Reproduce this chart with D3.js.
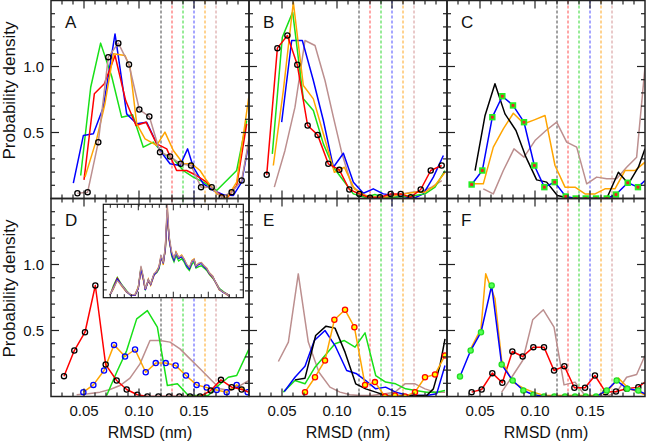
<!DOCTYPE html>
<html><head><meta charset="utf-8">
<script src="https://cdn.jsdelivr.net/npm/d3@7"></script>
<style>body{margin:0;background:#fff;}svg{display:block;}text{font-family:"Liberation Sans",Arial,Helvetica,sans-serif;fill:#111;}</style>
</head><body><svg id="c" width="646" height="442"></svg>
<script>
// ---------- data ----------
const xTickValues = [0.05, 0.10, 0.15];
const xTickLabels = ["0.05", "0.10", "0.15"];
const yTickValues = [0.5, 1.0];
const yTickLabels = ["0.5", "1.0"];
const refLines = [0.12, 0.13, 0.14, 0.15, 0.16, 0.17];
const panelLetters = ["A","B","C","D","E","F"];

const A_green = [[0.047,0.174],[0.0561,0.843],[0.0651,1.177],[0.0752,0.924],[0.0842,0.616],[0.0942,0.634],[0.1039,0.389],[0.113,0.427],[0.1221,0.338],[0.1312,0.300],[0.1403,0.212],[0.1494,0.162],[0.1585,0.124],[0.1706,0.061],[0.1888,0.212],[0.1979,0.591]];
const A_blue = [[0.0403,0.116],[0.0494,0.477],[0.0585,0.490],[0.0676,0.692],[0.0782,1.247],[0.0888,0.641],[0.0979,0.566],[0.107,0.578],[0.1191,0.364],[0.1282,0.263],[0.1373,0.250],[0.1442,0.376],[0.1494,0.237],[0.1585,0.111],[0.1676,0.061],[0.1767,0.028],[0.1858,0.023],[0.1933,0.124],[0.1994,0.402]];
const A_red = [[0.05,0.141],[0.0594,0.793],[0.0685,0.869],[0.0782,1.083],[0.0879,0.742],[0.0973,0.553],[0.1064,0.578],[0.1161,0.414],[0.1252,0.376],[0.1342,0.212],[0.1433,0.212],[0.1524,0.174],[0.1615,0.124],[0.1706,0.048],[0.1797,0.0],[0.1888,0.098],[0.1979,0.566]];
const A_orange = [[0.0509,0.162],[0.0615,0.45],[0.0691,0.72],[0.0767,1.096],[0.0873,1.083],[0.0918,0.995],[0.0979,0.566],[0.1055,0.452],[0.1161,0.402],[0.1236,0.503],[0.1312,0.364],[0.1403,0.263],[0.1479,0.263],[0.1555,0.212],[0.1615,0.136],[0.1706,0.035],[0.1797,0.003],[0.1888,0.124],[0.2,0.78]];
const A_brown = [[0.044,0.040],[0.0533,0.048],[0.063,0.427],[0.0721,1.071],[0.0812,1.177],[0.0909,1.015],[0.1003,0.674],[0.1094,0.621],[0.1191,0.351],[0.1282,0.318],[0.1379,0.263],[0.1473,0.250],[0.1564,0.086],[0.1661,0.086],[0.1752,0.010],[0.1842,0.048],[0.1933,0.136],[0.2,0.45]];

const B_red = [[0.0361,0.179],[0.0458,1.139],[0.0549,1.235],[0.0639,1.013],[0.0733,0.553],[0.0824,0.482],[0.0921,0.263],[0.1021,0.217],[0.1112,0.068],[0.1203,0.035],[0.13,0.005],[0.1391,0.010],[0.1488,0.035],[0.1579,0.035],[0.167,0.010],[0.1761,0.068],[0.1852,0.212],[0.1952,0.250]];
const B_green = [[0.0412,0.338],[0.0503,1.222],[0.0597,1.412],[0.0694,0.755],[0.0785,0.667],[0.0876,0.414],[0.0967,0.237],[0.1058,0.136],[0.1149,0.035],[0.1255,0.010],[0.1345,0.030],[0.1436,0.005],[0.1527,0.010],[0.1618,0.015],[0.1709,0.023],[0.18,0.035],[0.1891,0.086],[0.1982,0.212]];
const B_orange = [[0.0421,0.250],[0.0512,0.818],[0.0603,1.487],[0.0694,0.856],[0.0785,0.755],[0.0876,0.490],[0.0976,0.199],[0.1067,0.237],[0.1158,0.073],[0.1255,0.023],[0.1345,0.010],[0.1436,0.010],[0.1527,0.023],[0.1618,0.035],[0.1709,0.048],[0.18,0.048],[0.1891,0.098],[0.1982,0.199]];
const B_blue = [[0.0497,0.578],[0.0588,1.197],[0.0685,1.197],[0.0785,0.894],[0.0876,0.591],[0.0967,0.237],[0.1058,0.343],[0.1149,0.124],[0.124,0.040],[0.133,0.073],[0.1421,0.035],[0.1512,0.023],[0.1603,0.015],[0.1694,0.0],[0.1785,0.035],[0.1876,0.162],[0.1967,0.326]];
const B_brown = [[0.043,0.086],[0.0527,0.364],[0.0618,0.692],[0.0709,1.197],[0.08,1.159],[0.0891,0.894],[0.0967,0.616],[0.1042,0.351],[0.1133,0.098],[0.1224,0.035],[0.1315,0.010],[0.1406,0.015],[0.1497,0.023],[0.1588,0.035],[0.1679,0.048],[0.177,0.055],[0.1861,0.086],[0.1952,0.136]];

const C_black = [[0.0455,0.212],[0.0546,0.629],[0.0636,0.869],[0.0727,0.641],[0.0827,0.515],[0.0918,0.313],[0.1015,0.141],[0.1106,0.124],[0.1203,0.023],[0.1294,0.005],[0.1379,0.0],[0.147,0.0],[0.1561,0.0],[0.1652,0.0],[0.1758,0.199],[0.1849,0.111],[0.194,0.237],[0.2,0.376]];
const C_blue = [[0.0424,0.106],[0.0521,0.212],[0.0612,0.616],[0.0703,0.775],[0.08,0.705],[0.09,0.578],[0.0994,0.250],[0.1085,0.086],[0.1179,0.124],[0.1279,0.015],[0.137,0.0],[0.1461,0.0],[0.1555,0.0],[0.1652,0.0],[0.1736,0.030],[0.1843,0.119],[0.1936,0.086],[0.2,0.136]];
const C_orange = [[0.0439,0.111],[0.053,0.111],[0.0621,0.389],[0.0712,0.528],[0.0803,0.646],[0.09,0.566],[0.0994,0.596],[0.1091,0.629],[0.1182,0.250],[0.1273,0.086],[0.1364,0.086],[0.1455,0.035],[0.1546,0.035],[0.1636,0.073],[0.1727,0.073],[0.1818,0.212],[0.1909,0.212],[0.2,0.275]];
const C_brown = [[0.053,0.073],[0.0621,0.035],[0.0712,0.212],[0.0809,0.376],[0.09,0.313],[0.1,0.439],[0.11,0.515],[0.1197,0.578],[0.1288,0.427],[0.1379,0.389],[0.147,0.111],[0.1561,0.162],[0.1652,0.149],[0.1742,0.149],[0.1833,0.237],[0.1924,0.313],[0.2,0.995]];

const D_red = [[0.0318,0.154],[0.0412,0.348],[0.0509,0.487],[0.0603,0.841],[0.0697,0.242],[0.0797,0.121],[0.0888,0.053],[0.0985,0.013],[0.1076,0.0],[0.1176,0.0],[0.1273,0.0],[0.1367,0.0],[0.1464,0.0],[0.1555,0.0],[0.1652,0.045],[0.1745,0.126],[0.1842,0.071],[0.1933,0.053],[0.2,0.033]];
const D_orange = [[0.0494,0.033],[0.0585,0.088],[0.0682,0.197],[0.0773,0.391],[0.0873,0.303],[0.0964,0.356],[0.1061,0.184],[0.1152,0.253],[0.1243,0.253],[0.1333,0.235],[0.1427,0.159],[0.1524,0.088],[0.1615,0.068],[0.1706,0.050],[0.1797,0.033],[0.1888,0.088],[0.1988,0.033]];
const D_green = [[0.0706,0.008],[0.0797,0.184],[0.0888,0.348],[0.0979,0.588],[0.1076,0.651],[0.1167,0.525],[0.1258,0.083],[0.1349,0.096],[0.1449,0.008],[0.154,0.008],[0.163,0.008],[0.1721,0.083],[0.1812,0.146],[0.1888,0.159],[0.2,0.361]];
const D_brown = [[0.0433,0.013],[0.0539,0.020],[0.0645,0.033],[0.0736,0.053],[0.0827,0.083],[0.0918,0.139],[0.1009,0.247],[0.11,0.424],[0.1191,0.424],[0.1282,0.412],[0.1373,0.361],[0.1464,0.285],[0.1555,0.210],[0.1645,0.134],[0.1736,0.058],[0.1827,0.045],[0.1918,0.083],[0.2,0.121]];

const E_black = [[0.0618,0.126],[0.0709,0.139],[0.0806,0.462],[0.09,0.533],[0.0982,0.518],[0.1073,0.336],[0.117,0.096],[0.1261,0.058],[0.1352,0.033],[0.1442,0.008],[0.1533,0.008],[0.1624,0.008],[0.1715,0.008],[0.1815,0.008],[0.1876,0.058],[0.1936,0.235],[0.1982,0.437]];
const E_blue = [[0.0521,0.038],[0.0618,0.146],[0.0709,0.230],[0.0794,0.424],[0.0891,0.500],[0.0982,0.386],[0.1088,0.197],[0.1179,0.172],[0.1261,0.121],[0.1352,0.058],[0.1442,0.071],[0.1533,0.033],[0.1624,0.013],[0.1715,0.008],[0.1815,0.008],[0.1906,0.020],[0.1982,0.235]];
const E_green = [[0.0512,0.033],[0.0618,0.121],[0.0709,0.096],[0.08,0.222],[0.0891,0.311],[0.0982,0.399],[0.1067,0.424],[0.1164,0.374],[0.1255,0.482],[0.1352,0.159],[0.1442,0.109],[0.1533,0.096],[0.1624,0.058],[0.1715,0.045],[0.1815,0.033],[0.1906,0.033],[0.1982,0.045]];
const E_orange = [[0.0709,0.033],[0.08,0.146],[0.0891,0.273],[0.0976,0.581],[0.1073,0.657],[0.1158,0.525],[0.1255,0.088],[0.1345,0.109],[0.1436,0.0],[0.1527,0.008],[0.1618,0.0],[0.1709,0.033],[0.18,0.146],[0.1891,0.167],[0.1982,0.311]];
const E_brown = [[0.0467,0.265],[0.0558,0.412],[0.0648,0.929],[0.0739,0.412],[0.0836,0.184],[0.0936,0.071],[0.1027,0.033],[0.1118,0.013],[0.1209,0.008],[0.1315,0.008],[0.1436,0.020],[0.1527,0.033],[0.1618,0.096],[0.1709,0.096],[0.18,0.058],[0.1891,0.033],[0.1982,0.033]];

const F_blue = [[0.0318,0.152],[0.0415,0.348],[0.0509,0.487],[0.0606,0.841],[0.0697,0.242],[0.0797,0.121],[0.0894,0.045],[0.0985,0.013],[0.1082,0.0],[0.1176,0.0],[0.1273,0.0],[0.1364,0.0],[0.1461,0.0],[0.1555,0.0],[0.1652,0.045],[0.1742,0.121],[0.1839,0.058],[0.1939,0.045],[0.2,0.020]];
const F_orange = [[0.0415,0.361],[0.0509,0.513],[0.0552,0.929],[0.0636,0.740],[0.0697,0.273],[0.0797,0.109],[0.0894,0.063],[0.0985,0.033],[0.1082,0.008],[0.1176,0.008],[0.1273,0.008],[0.1364,0.008],[0.1461,0.008],[0.1555,0.008],[0.1652,0.033],[0.1758,0.139],[0.1849,0.063],[0.1939,0.033],[0.2,0.013]];
const F_red = [[0.0424,0.033],[0.0515,0.053],[0.0612,0.177],[0.0703,0.104],[0.0794,0.341],[0.0888,0.303],[0.0985,0.374],[0.1082,0.374],[0.1173,0.197],[0.1267,0.230],[0.1358,0.066],[0.1455,0.066],[0.1545,0.159],[0.1642,0.033],[0.1736,0.038],[0.1833,0.058],[0.1939,0.071],[0.2,0.109]];
const F_brown = [[0.0697,0.033],[0.0788,0.146],[0.0888,0.273],[0.0979,0.581],[0.1076,0.657],[0.1173,0.525],[0.1264,0.088],[0.1364,0.109],[0.1461,0.0],[0.1555,0.008],[0.1652,0.0],[0.1742,0.033],[0.1833,0.146],[0.1924,0.167],[0.2,0.311]];

// inset (panel D)
const insetX = [0.96,1.43,2.0,2.62,3.33,3.91,4.53,5.0,5.38,5.71,6.0,6.43,6.77,7.24,7.63,7.96,8.24,8.57,8.86,9.14,9.39,9.77,10.1,10.39,10.77,11.2,11.53,11.91,12.29,12.67,12.96,13.24,13.63,14.0,14.39,14.77,15.14,15.63,16.1,16.57,17.14,17.63,18.0];
const insetGreen = [0.3,1.5,2.6,1.7,0.9,0.3,0.3,1.3,3.9,2.6,1.1,2.1,1.8,3.0,3.2,3.7,5.0,4.6,6.1,10.6,7.9,5.3,4.6,5.4,4.7,5.0,4.6,3.9,3.5,4.3,4.6,3.8,4.0,4.1,3.8,3.5,3.0,2.5,1.9,1.2,0.8,0.5,0.2];
const insetRed = [0.35,1.3,2.5,1.6,0.8,0.35,0.3,1.2,3.8,2.5,1.0,2.2,1.7,3.0,3.3,3.9,5.1,4.5,6.2,10.9,7.7,5.6,4.9,5.8,5.1,5.3,4.9,4.2,3.7,4.7,4.9,4.0,4.3,4.5,4.0,3.7,3.1,2.6,1.9,1.1,0.7,0.5,0.2];
const insetOrange = [0.4,1.1,2.3,1.5,0.7,0.4,0.4,1.4,3.5,2.3,1.0,2.4,1.6,2.8,3.5,4.0,5.4,4.2,6.5,11.6,7.4,5.7,5.0,5.9,5.2,5.5,5.0,4.2,3.8,4.8,5.0,4.1,4.4,4.5,4.1,3.8,3.2,2.8,1.8,1.0,0.7,0.4,0.2];
const insetBlue = [0.35,1.21,2.4,1.63,0.77,0.35,0.35,1.21,3.69,2.49,0.99,2.27,1.72,2.92,3.34,3.86,5.27,4.42,6.35,11.27,7.63,5.58,4.85,5.71,5.06,5.27,4.85,4.11,3.69,4.63,4.85,3.98,4.29,4.42,3.98,3.69,3.13,2.7,1.85,1.08,0.69,0.48,0.2];
const insetBrown = [0.4,1.2,2.2,1.6,0.8,0.4,0.4,1.3,4.1,2.7,1.1,2.3,1.8,3.1,3.4,4.0,5.5,4.5,6.6,12.0,8.0,5.9,5.1,5.8,5.2,5.4,5.0,4.3,3.9,4.7,4.9,4.1,4.4,4.5,4.1,3.8,3.2,2.7,1.9,1.1,0.7,0.5,0.2];

// ---------- styles ----------
const COL = {black:"#000000", red:"#ff0000", green:"#18e018", blue:"#0000ff", orange:"#ffa500", brown:"#bc8f8f"};
const REFCOL = ["#444444","#ff4c4c","#30d830","#4c4cff","#ffa620","#d49494"];

const left = 51, top0 = 0.5, PW = 198, PH = 198;
const svg = d3.select("#c");
const x = d3.scaleLinear().domain([0.02, 0.20]).range([0, PW]);
const y = d3.scaleLinear().domain([0, 1.5]).range([PH, 0]);
const line = d3.line().x(d => x(d[0])).y(d => y(d[1]));

const mk = {
  ringK: {type:"circle", stroke:"#000", fill:"none"},
  ringB: {type:"circle", stroke:"#0000ff", fill:"none"},
  ringRY: {type:"circle", stroke:"#ff0000", fill:"#ffff00"},
  ringG: {type:"circle", stroke:"#22dd22", fill:"#55ff55"},
  sq: {type:"square"}
};

const panels = [
  {row:0,col:0,series:[[A_green,"green"],[A_blue,"blue"],[A_red,"red"],[A_orange,"orange"],[A_brown,"brown",mk.ringK]]},
  {row:0,col:1,series:[[B_brown,"brown"],[B_blue,"blue"],[B_green,"green"],[B_orange,"orange"],[B_red,"red",mk.ringK]]},
  {row:0,col:2,series:[[C_brown,"brown"],[C_orange,"orange"],[C_black,"black"],[C_blue,"blue",mk.sq]]},
  {row:1,col:0,series:[[D_brown,"brown"],[D_green,"green"],[D_orange,"orange",mk.ringB],[D_red,"red",mk.ringK]],inset:true},
  {row:1,col:1,series:[[E_brown,"brown"],[E_green,"green"],[E_blue,"blue"],[E_black,"black"],[E_orange,"orange",mk.ringRY]]},
  {row:1,col:2,series:[[F_brown,"brown"],[F_red,"red",mk.ringK],[F_orange,"orange"],[F_blue,"blue",mk.ringG]]}
];

function tickSet(g, xs, ys, w, h, xMin, xMaj, yMin, yMaj, lMaj, lMin, sw) {
  const t = g.append("g").attr("stroke", "#222").attr("stroke-width", sw);
  xMin.map(v => [v, lMin]).concat(xMaj.map(v => [v, lMaj])).forEach(([v, l]) => {
    const px = xs(v);
    t.append("line").attr("x1", px).attr("x2", px).attr("y1", h).attr("y2", h - l);
    t.append("line").attr("x1", px).attr("x2", px).attr("y1", 0).attr("y2", l);
  });
  yMin.map(v => [v, lMin]).concat(yMaj.map(v => [v, lMaj])).forEach(([v, l]) => {
    const py = ys(v);
    t.append("line").attr("x1", 0).attr("x2", l).attr("y1", py).attr("y2", py);
    t.append("line").attr("x1", w).attr("x2", w - l).attr("y1", py).attr("y2", py);
  });
}

const xMinorT = d3.range(3, 20).filter(i => i % 5 !== 0).map(i => i / 100);
const xMajorT = d3.range(3, 20).filter(i => i % 5 === 0).map(i => i / 100);
const yMinorT = d3.range(1, 15).filter(i => i % 5 !== 0).map(i => i / 10);
const yMajorT = d3.range(1, 15).filter(i => i % 5 === 0).map(i => i / 10);

panels.forEach((p, i) => {
  const ox = left + p.col * PW, oy = top0 + p.row * PH;
  const g = svg.append("g").attr("transform", `translate(${ox},${oy})`);
  const cid = "clip" + i;
  svg.append("clipPath").attr("id", cid).append("rect").attr("x", 0).attr("y", 0).attr("width", PW).attr("height", PH);
  const body = g.append("g").attr("clip-path", `url(#${cid})`);
  refLines.forEach((v, k) => {
    body.append("line").attr("x1", x(v)).attr("x2", x(v)).attr("y1", 0).attr("y2", PH)
      .attr("stroke", REFCOL[k]).attr("stroke-width", 1).attr("stroke-dasharray", "3,2");
  });
  p.series.forEach(([data, c, m]) => {
    body.append("path").datum(data).attr("d", line).attr("fill", "none")
      .attr("stroke", COL[c]).attr("stroke-width", 1.5).attr("stroke-linejoin", "round");
    if (m) {
      const pts = data.filter(d => d[0] < 0.1995);
      if (m.type === "circle") {
        body.selectAll(null).data(pts).enter().append("circle")
          .attr("cx", d => x(d[0])).attr("cy", d => y(d[1])).attr("r", 2.6)
          .attr("fill", m.fill).attr("stroke", m.stroke).attr("stroke-width", 1.3);
      } else {
        body.selectAll(null).data(pts).enter().append("rect")
          .attr("x", d => x(d[0]) - 3.2).attr("y", d => y(d[1]) - 3.2).attr("width", 6.4).attr("height", 6.4)
          .attr("fill", "#22ee22");
        body.selectAll(null).data(pts).enter().append("rect")
          .attr("x", d => x(d[0]) - 1.4).attr("y", d => y(d[1]) - 1.4).attr("width", 2.8).attr("height", 2.8)
          .attr("fill", "#ee2222");
      }
    }
  });
  if (p.inset) {
    const iw = 140, ih = 93.4, ix = 52.3, iy = 5.8;
    const ixs = d3.scaleLinear().domain([0, 20]).range([0, iw]);
    const iys = d3.scaleLinear().domain([0, 12]).range([ih, 0]);
    const ig = g.append("g").attr("transform", `translate(${ix},${iy})`);
    ig.append("rect").attr("width", iw).attr("height", ih).attr("fill", "#fff");
    const il = d3.line().x((d, k) => ixs(insetX[k])).y(d => iys(d));
    [[insetGreen,"green"],[insetRed,"red"],[insetOrange,"orange"],[insetBlue,"blue"],[insetBrown,"brown"]].forEach(([arr, c]) => {
      ig.append("path").datum(arr).attr("d", il).attr("fill", "none").attr("stroke", COL[c]).attr("stroke-width", 1.3);
    });
    tickSet(ig, ixs, iys, iw, ih, d3.range(1, 20).filter(k => k % 5 !== 0), [5, 10, 15],
      d3.range(1, 12).filter(k => k % 4 !== 0), [4, 8], 6, 3.5, 1);
    ig.append("rect").attr("width", iw).attr("height", ih).attr("fill", "none").attr("stroke", "#111").attr("stroke-width", 1.2);
  }
  tickSet(g, x, y, PW, PH, xMinorT, xMajorT, yMinorT, yMajorT, 8, 4, 1.2);
  g.append("rect").attr("width", PW).attr("height", PH).attr("fill", "none").attr("stroke", "#222").attr("stroke-width", 1.5);
  g.append("text").attr("x", 14).attr("y", 27.5).attr("font-size", 17).text(panelLetters[i]);
  if (p.row === 1) {
    xTickValues.forEach((v, k) => {
      g.append("text").attr("x", x(v)).attr("y", PH + 19).attr("text-anchor", "middle").attr("font-size", 15).text(xTickLabels[k]);
    });
    g.append("text").attr("x", PW / 2).attr("y", PH + 41).attr("text-anchor", "middle").attr("font-size", 16).text("RMSD (nm)");
  }
  if (p.col === 0) {
    yTickValues.forEach((v, k) => {
      g.append("text").attr("x", -7).attr("y", y(v) + 5.4).attr("text-anchor", "end").attr("font-size", 15).text(yTickLabels[k]);
    });
    g.append("text").attr("transform", `translate(${-36},${90}) rotate(-90)`).attr("text-anchor", "middle")
      .attr("font-size", 17).text("Probability density");
  }
});
</script></body></html>
